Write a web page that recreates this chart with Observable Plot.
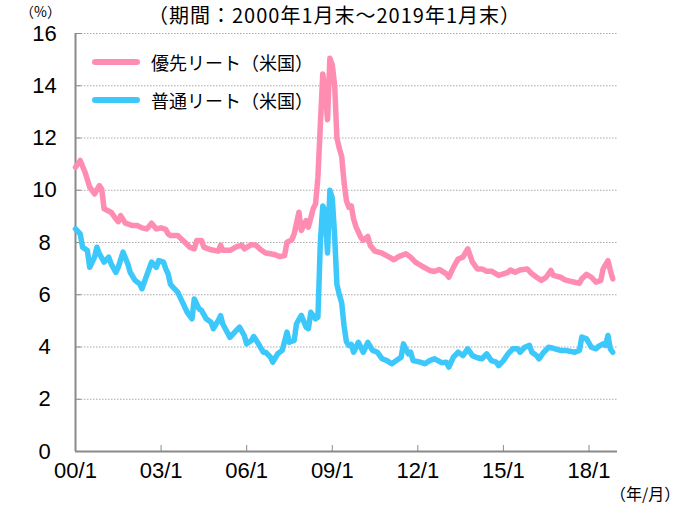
<!DOCTYPE html>
<html><head><meta charset="utf-8">
<script src="https://cdn.jsdelivr.net/npm/d3@7"></script>
<script src="https://cdn.jsdelivr.net/npm/@observablehq/plot@0.6"></script>
<style>
body{margin:0;background:#fff;}
#wrap{position:relative;width:682px;height:506px;overflow:hidden;background:#fff;}
#wrap svg{position:absolute;left:0;top:0;}
.lbl{position:absolute;white-space:nowrap;color:#000;font-family:"Noto Sans CJK JP",sans-serif;}
.leg{position:absolute;left:92px;width:48px;height:6px;border-radius:3px;}
</style></head><body>
<div id="wrap"></div>
<script>
// ---- data (month index from 2000/1, value in %) ----
const seriesNames = ["優先リート（米国）", "普通リート（米国）"];
const seriesColors = ["#ff8db2", "#3cc8fa"];
const prefMonth = [0,2,4,6,8,10,11,12,15,17,18,19,21,24,26,28,30,32,34,36,38,39,40,43,46,48,50,51,53,54,57,60,61,62,65,68,70,71,74,76,78,80,82,84,86,88,89,91,92,94,95,97,98,100,101,102,103,104,105,106,107,108,109,110,111,112,113,114,115,116,117,118,120,121,123,124,126,129,132,134,136,139,141,143,146,149,151,153,156,157,159,161,163,165,167,169,171,173,175,178,180,182,183,185,187,190,192,194,196,198,200,201,204,206,208,210,212,213,215,217,219,221,222,224,225,226];
const prefValue = [10.88,11.14,10.7,10.12,9.86,10.18,10.05,9.29,9.16,8.9,8.8,9.03,8.74,8.65,8.65,8.56,8.52,8.74,8.52,8.56,8.5,8.33,8.27,8.27,8.01,7.82,7.76,8.08,8.08,7.82,7.72,7.67,7.89,7.7,7.7,7.85,7.89,7.76,7.92,7.89,7.72,7.6,7.57,7.53,7.46,7.5,8.01,8.1,8.33,9.16,8.46,8.84,8.59,9.29,9.48,10.5,12.5,14.45,13.8,12.7,15.05,14.8,14.0,12.0,11.6,11.3,10.3,9.6,9.35,9.4,8.9,8.6,8.2,8.08,8.23,7.89,7.67,7.59,7.44,7.34,7.46,7.57,7.44,7.25,7.08,6.93,6.89,6.97,6.8,6.67,7.05,7.37,7.44,7.76,7.25,6.99,6.99,6.9,6.9,6.74,6.8,6.86,6.95,6.86,6.95,6.99,6.8,6.67,6.55,6.67,6.93,6.74,6.67,6.57,6.52,6.48,6.44,6.61,6.78,6.67,6.48,6.55,6.99,7.31,6.93,6.61];
const comMonth = [0,2,3,5,6,8,9,10,12,14,15,17,18,20,22,23,25,27,28,30,32,34,35,37,38,39,40,41,43,45,47,49,50,52,53,55,57,58,60,61,62,65,67,69,71,72,74,75,77,79,80,82,83,85,87,89,90,92,93,95,97,98,99,101,102,103,104,105,106,107,108,109,110,111,112,113,114,115,116,117,119,121,123,125,127,129,131,133,135,137,138,140,141,142,145,147,149,151,152,154,156,157,159,161,163,165,167,169,171,173,175,177,178,180,182,184,186,187,189,191,192,194,195,197,199,201,204,206,208,210,212,213,215,217,219,220,222,223,224,225,226];
const comValue = [8.52,8.33,7.82,7.69,7.05,7.44,7.82,7.57,7.25,7.44,7.18,6.86,7.05,7.63,7.18,6.86,6.55,6.42,6.23,6.74,7.25,7.05,7.31,7.25,7.0,6.8,6.4,6.29,6.1,5.72,5.33,5.08,5.84,5.46,5.4,5.08,4.95,4.7,5.01,5.2,4.88,4.37,4.57,4.76,4.44,4.12,4.25,4.4,4.12,3.8,3.8,3.61,3.42,3.74,3.87,4.57,4.18,4.25,4.89,5.21,4.76,4.7,5.33,5.08,5.14,8.0,9.4,9.2,7.6,10.0,9.7,8.2,6.4,6.0,5.7,4.8,4.2,4.06,4.1,3.8,4.18,3.8,4.18,3.87,3.8,3.55,3.48,3.36,3.48,3.61,4.12,3.74,3.8,3.48,3.42,3.36,3.48,3.55,3.5,3.4,3.42,3.23,3.61,3.8,3.67,3.93,3.67,3.59,3.55,3.74,3.48,3.42,3.29,3.48,3.74,3.93,3.93,3.8,3.99,4.06,3.8,3.67,3.55,3.8,3.99,3.95,3.87,3.87,3.84,3.8,3.87,4.38,4.31,3.99,3.93,4.02,4.12,4.06,4.44,3.93,3.8];
const xTickYears = [2000,2003,2006,2009,2012,2015,2018];
const yTicks = [0,2,4,6,8,10,12,14,16];
const titleText = "（期間：2000年1月末～2019年1月末）";
const yUnit = "（%）";
const xUnit = "（年/月）";

const toDate = m => new Date(Date.UTC(2000, m, 1));
const pref = prefMonth.map((m,i)=>({date:toDate(m), v:prefValue[i]}));
const com = comMonth.map((m,i)=>({date:toDate(m), v:comValue[i]}));
const xTicks = xTickYears.map(y=>new Date(Date.UTC(y,0,1)));
const fmtX = d => d3.utcFormat("%y")(d) + "/" + (d.getUTCMonth()+1);

const axisFont = "Liberation Sans Narrow, Arial Narrow, Liberation Sans, sans-serif";
const chart = Plot.plot({
  width: 682, height: 506,
  marginLeft: 75, marginRight: 65, marginTop: 33, marginBottom: 55,
  style: {fontFamily: axisFont, fontSize: "22px", color: "#000", background: "#fff"},
  x: {type: "utc", domain: [new Date(Date.UTC(2000,0,1)), new Date(Date.UTC(2019,0,1))]},
  y: {domain: [0, 16]},
  marks: [
    Plot.gridY(yTicks.filter(d=>d>0), {stroke: "#a8a8a8", strokeOpacity: 1, strokeDasharray: "1.5,1.5"}),
    Plot.axisY(yTicks, {tickSize: -6, tickPadding: 37, textAnchor: "middle", stroke: "#8a8a8a", label: null, fontSize: 22}),
    Plot.axisX(xTicks, {tickSize: -6, tickPadding: 17, tickFormat: fmtX, stroke: "#8a8a8a", label: null, fontSize: 22}),
    Plot.ruleX([new Date(Date.UTC(2000,0,1))], {stroke: "#8a8a8a", strokeWidth: 2}),
    Plot.ruleY([0], {stroke: "#8a8a8a", strokeWidth: 2}),
    Plot.line(pref, {x: "date", y: "v", stroke: seriesColors[0], strokeWidth: 5.5, strokeLinejoin: "round", strokeLinecap: "round"}),
    Plot.line(com, {x: "date", y: "v", stroke: seriesColors[1], strokeWidth: 5.5, strokeLinejoin: "round", strokeLinecap: "round"})
  ]
});
const wrap = document.getElementById("wrap");
wrap.appendChild(chart);

function addLabel(text, left, top, size, extra) {
  const d = document.createElement("div");
  d.className = "lbl";
  d.textContent = text;
  d.style.left = left + "px"; d.style.top = top + "px"; d.style.fontSize = size + "px";
  if (extra) Object.assign(d.style, extra);
  wrap.appendChild(d);
  return d;
}
addLabel(titleText, 148, 0, 20, {lineHeight: "normal", letterSpacing: "1px"});
addLabel(yUnit, 20, 2, 14, {lineHeight: "18px"});
addLabel(xUnit, 610, 483, 16, {lineHeight: "20px"});
// legend
seriesNames.forEach((name, i) => {
  const cy = 62 + i * 38;
  const sw = document.createElement("div");
  sw.className = "leg";
  sw.style.top = (cy - 3) + "px";
  sw.style.background = seriesColors[i];
  wrap.appendChild(sw);
  addLabel(name, 151, cy - 13, 18, {lineHeight: "26px"});
});
</script>
</body></html>
